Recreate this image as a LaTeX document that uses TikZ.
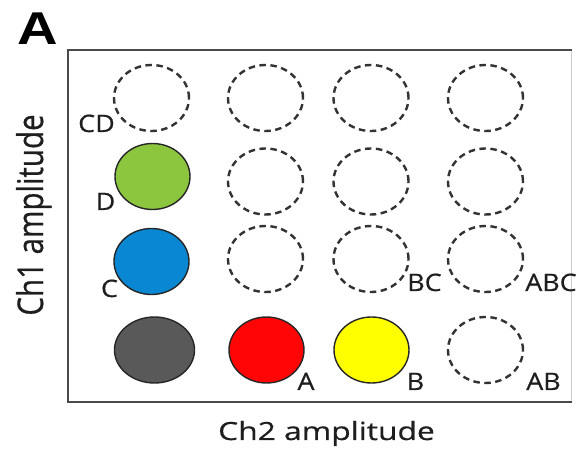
\documentclass[tikz,border=0pt]{standalone}
\usepackage{fontspec}
\usetikzlibrary{shapes.geometric}
\newfontfamily\axfont[FakeStretch=1.27,FakeBold=0.6]{Open Sans}
\newfontfamily\lbfont[FakeStretch=1.12,FakeBold=0.6]{Open Sans}
\newfontfamily\vfont[FakeBold=0.6]{Open Sans}
\newfontfamily\ttlfont[FakeStretch=1.22]{Liberation Sans}
\definecolor{framegray}{HTML}{4A4A4A}
\definecolor{dashgray}{HTML}{333333}
\definecolor{txt}{HTML}{1E1E1E}
\definecolor{dgreen}{HTML}{8CC63F}
\definecolor{dblue}{HTML}{0A87D2}
\definecolor{dgray}{HTML}{595959}
\definecolor{dred}{HTML}{FF0505}
\definecolor{dyellow}{HTML}{FFFF00}
\tikzset{
  drop/.style={ellipse, inner sep=0pt, minimum width=75pt, minimum height=66pt},
  empty/.style={drop, draw=dashgray, line width=2.4pt, dash pattern=on 6.5pt off 4.5pt},
  full/.style={drop, draw=black!85, line width=1.4pt},
  lab/.style={anchor=base, inner sep=0pt, text=txt, font=\lbfont\fontsize{24}{24}\selectfont},
}
\begin{document}
\begin{tikzpicture}[x=1pt, y=-1pt]
  \useasboundingbox (0,0) rectangle (582,449);
  % plot frame
  \draw[line width=0.8pt, draw=black!20] (571,50) -- (571,402);
  \draw[line width=2.5pt, draw=framegray] (572,50) -- (68,50) -- (68,402) -- (572,402);
  % panel letter and axis titles
  \node[anchor=base, inner sep=0pt, font=\ttlfont\bfseries\fontsize{46}{46}\selectfont] (ttl) at (37.5,45) {A};
  \node[anchor=base, inner sep=0pt, text=txt, font=\axfont\fontsize{25}{25}\selectfont] (xlab) at (326.5,440) {Ch2 amplitude};
  \node[anchor=base, rotate=90, inner sep=0pt, text=txt, font=\vfont\fontsize{29.5}{29.5}\selectfont] (ylab) at (43,215) {\scalebox{1}[1.2]{Ch1 amplitude}};
  % row 1
  \node[empty] (cd)  at (151.5,98) {};
  \node[empty] (r1b) at (265.5,98) {};
  \node[empty] (r1c) at (371,98) {};
  \node[empty] (r1d) at (485.5,98) {};
  % row 2
  \node[full, fill=dgreen] (d) at (152.5,176.5) {};
  \node[empty] (r2b) at (265.5,181.5) {};
  \node[empty] (r2c) at (371,181.5) {};
  \node[empty] (r2d) at (485.5,181.5) {};
  % row 3
  \node[full, fill=dblue] (c) at (151.5,261.5) {};
  \node[empty] (r3b) at (265.5,259) {};
  \node[empty] (bc)  at (371,259) {};
  \node[empty] (abc) at (485.5,259) {};
  % row 4
  \node[full, fill=dgray, minimum width=80pt] (neg) at (154.5,350) {};
  \node[full, fill=dred] (a) at (266.5,350) {};
  \node[full, fill=dyellow] (b) at (371.5,350) {};
  \node[empty] (ab) at (485.5,350) {};
  % droplet cluster labels
  \node[lab] (tcd)  at (96.5,132) {CD};
  \node[lab] (td)   at (105.5,210) {D};
  \node[lab] (tc)   at (109.5,297) {C};
  \node[lab] (tbc)  at (424.5,291) {BC};
  \node[lab] (tabc) at (551,291) {ABC};
  \node[lab] (ta)   at (306,390) {A};
  \node[lab] (tb)   at (415.5,390) {B};
  \node[lab] (tab)  at (543.5,390) {AB};
\end{tikzpicture}
\end{document}
